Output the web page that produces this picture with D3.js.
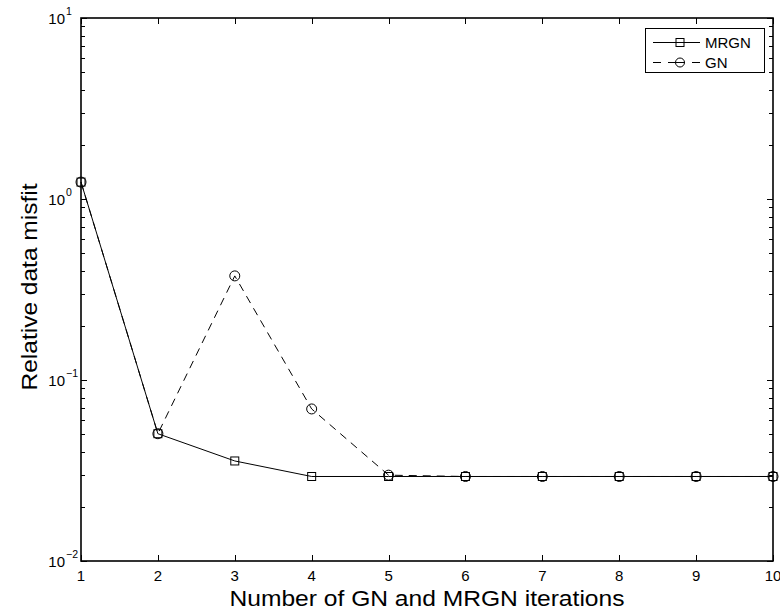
<!DOCTYPE html>
<html><head><meta charset="utf-8">
<script src="https://cdn.jsdelivr.net/npm/d3@7"></script>
<style>body{margin:0;background:#fff}svg{display:block}text{font-family:"Liberation Sans",Arial,sans-serif}</style>
</head><body><div id="c"></div>
<script>
const iterations = [1,2,3,4,5,6,7,8,9,10];
const mrgn = [1.24,0.0505,0.0357,0.0293,0.0293,0.0293,0.0293,0.0293,0.0293,0.0293];
const gn   = [1.24,0.0505,0.376,0.0692,0.0298,0.0293,0.0293,0.0293,0.0293,0.0293];
const xTicks = [1,2,3,4,5,6,7,8,9,10];
const yExps = [-2,-1,0,1];

const W=780,H=610, L=81,R=773,T=18,B=561;
const svg=d3.select("#c").append("svg").attr("width",W).attr("height",H);
const x=d3.scaleLinear().domain([1,10]).range([L,R]);
const y=d3.scaleLog().domain([0.01,10]).range([B,T]);

// ticks
const g=svg.append("g").attr("stroke","#000").attr("stroke-width",1);
xTicks.forEach(t=>{
  const px=Math.round(x(t))+0.5;
  g.append("line").attr("x1",px).attr("x2",px).attr("y1",B).attr("y2",B-6);
  g.append("line").attr("x1",px).attr("x2",px).attr("y1",T).attr("y2",T+6);
});
const minor=[];
for(let e=-2;e<1;e++) for(let m=1;m<10;m++) minor.push(m*Math.pow(10,e));
minor.push(10);
minor.forEach(v=>{
  const major = Math.abs(Math.log10(v)-Math.round(Math.log10(v)))<1e-9;
  const len = major?6:4;
  const py=Math.round(y(v))+0.5;
  g.append("line").attr("x1",L).attr("x2",L+len).attr("y1",py).attr("y2",py);
  g.append("line").attr("x1",R).attr("x2",R-len).attr("y1",py).attr("y2",py);
});
svg.append("rect").attr("x",L).attr("y",T).attr("width",R-L).attr("height",B-T)
  .attr("fill","none").attr("stroke","#000").attr("stroke-width",1.6);

// tick labels
xTicks.forEach(t=>{
  svg.append("text").attr("x",x(t)).attr("y",581).attr("text-anchor","middle")
   .attr("font-size",15).text(t);
});
yExps.forEach(e=>{
  const py=y(Math.pow(10,e));
  svg.append("text").attr("x",65).attr("y",py+6).attr("text-anchor","end").attr("font-size",15).text("10");
  svg.append("text").attr("x",66).attr("y",py-3).attr("font-size",10.5).text(e<0?"\u2212"+(-e):e);
});
svg.append("text").attr("x",(L+R)/2).attr("y",606).attr("text-anchor","middle")
  .attr("font-size",22).attr("textLength",395).attr("lengthAdjust","spacingAndGlyphs")
  .text("Number of GN and MRGN iterations");
svg.append("text").attr("transform",`translate(37,${287}) rotate(-90)`)
  .attr("text-anchor","middle").attr("font-size",22).attr("textLength",207).attr("lengthAdjust","spacingAndGlyphs")
  .text("Relative data misfit");

// lines
const line=d3.line().x((d,i)=>x(iterations[i])).y(d=>y(d));
svg.append("path").datum(gn).attr("d",line).attr("fill","none").attr("stroke","#000")
  .attr("stroke-width",1).attr("stroke-dasharray","8,6");
svg.append("path").datum(mrgn).attr("d",line).attr("fill","none").attr("stroke","#000").attr("stroke-width",1);
svg.selectAll(".sq").data(mrgn).enter().append("rect")
  .attr("x",(d,i)=>x(iterations[i])-4).attr("y",d=>y(d)-4).attr("width",8).attr("height",8)
  .attr("fill","none").attr("stroke","#000").attr("stroke-width",1);
svg.selectAll(".ci").data(gn).enter().append("circle")
  .attr("cx",(d,i)=>x(iterations[i])).attr("cy",d=>y(d)).attr("r",5)
  .attr("fill","none").attr("stroke","#000").attr("stroke-width",1);

// legend
const lg=svg.append("g");
lg.append("rect").attr("x",645.5).attr("y",28.5).attr("width",119).attr("height",44)
  .attr("fill","#fff").attr("stroke","#000").attr("stroke-width",1);
lg.append("line").attr("x1",653).attr("x2",700).attr("y1",42.5).attr("y2",42.5).attr("stroke","#000");
lg.append("rect").attr("x",676).attr("y",38.5).attr("width",8).attr("height",8).attr("fill","none").attr("stroke","#000");
lg.append("text").attr("x",705).attr("y",48).attr("font-size",15).text("MRGN");
lg.append("line").attr("x1",653).attr("x2",700).attr("y1",62.5).attr("y2",62.5).attr("stroke","#000").attr("stroke-dasharray","8,7,17,7,8");
lg.append("circle").attr("cx",680).attr("cy",62.5).attr("r",4.5).attr("fill","none").attr("stroke","#000");
lg.append("text").attr("x",705).attr("y",68).attr("font-size",15).text("GN");
</script></body></html>
